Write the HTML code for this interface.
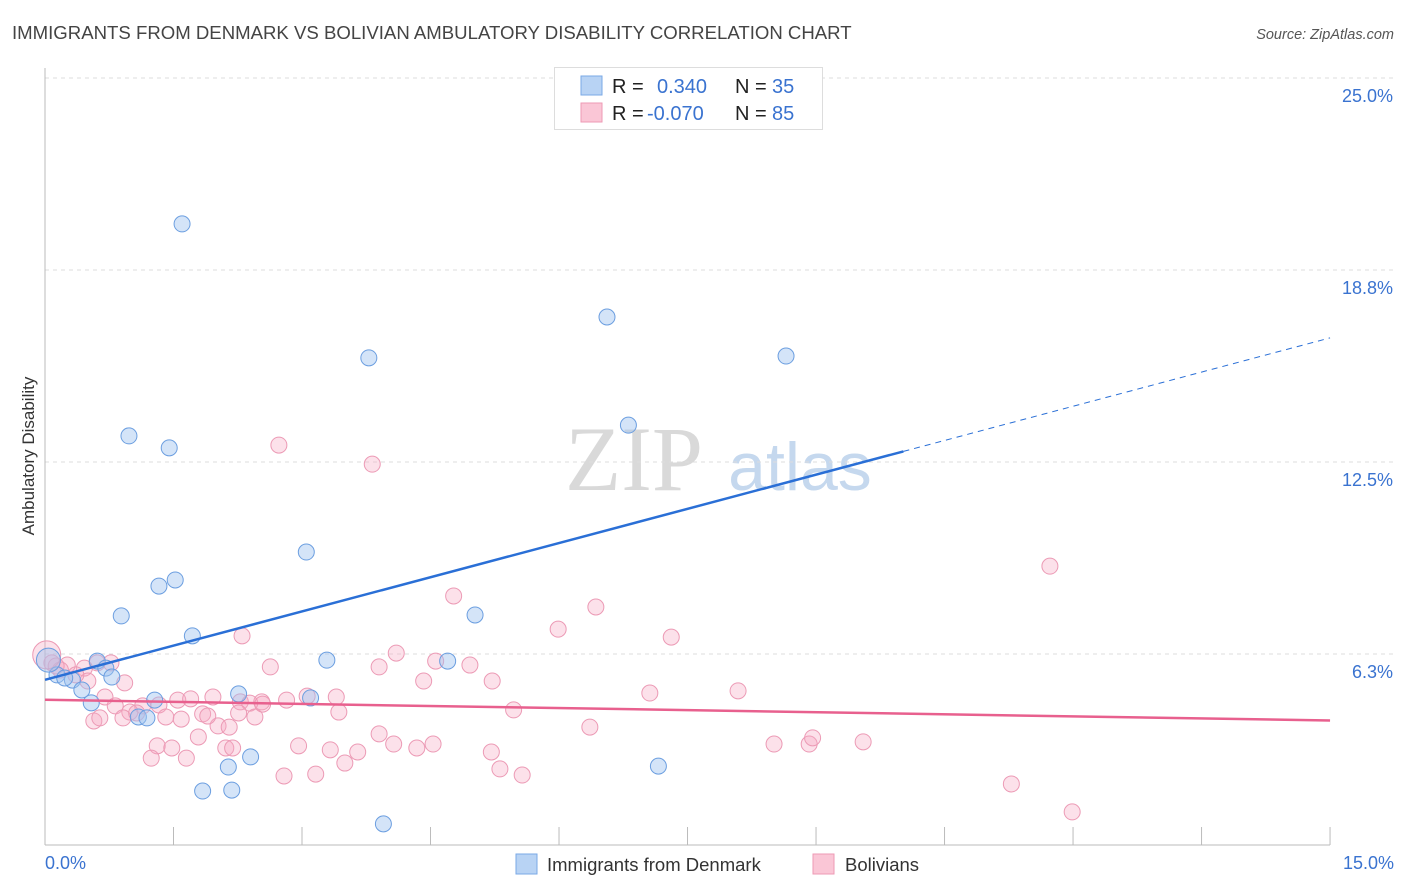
<!DOCTYPE html>
<html><head><meta charset="utf-8"><style>
body{margin:0;background:#fff;font-family:"Liberation Sans",sans-serif;}
#wrap{position:relative;width:1406px;height:892px;overflow:hidden;}
</style></head><body>
<div id="wrap">
<svg id="chart" width="1406" height="892" style="position:absolute;left:0;top:0">
<text x="12" y="39" font-size="18.6" fill="#444">IMMIGRANTS FROM DENMARK VS BOLIVIAN AMBULATORY DISABILITY CORRELATION CHART</text>
<text x="1394" y="39" font-size="14.5" fill="#555" font-style="italic" text-anchor="end">Source: ZipAtlas.com</text>
<text x="34" y="456" font-size="17" fill="#333" text-anchor="middle" transform="rotate(-90 34 456)">Ambulatory Disability</text>
<g>
<text x="634" y="490" font-size="92" font-family="Liberation Serif" fill="#d9d9d9" text-anchor="middle">ZIP</text>
<text x="800" y="490" font-size="68" fill="#c5d8ee" text-anchor="middle">atlas</text>
</g>
<g id="grid"></g><g id="axes"></g><g id="pts"></g><g id="trend"></g>
<g>
<rect x="554.5" y="67.5" width="268" height="62" fill="#fff" stroke="#ddd"/>
<rect x="581" y="76" width="21" height="19" fill="#b8d3f4" stroke="#7aa8e6"/>
<rect x="581" y="103" width="21" height="19" fill="#fac6d6" stroke="#ee9ab4"/>
<text y="93" font-size="20" fill="#222"><tspan x="612">R =</tspan><tspan x="657" fill="#3a73d0">0.340</tspan><tspan x="735">N =</tspan><tspan x="772" fill="#3a73d0">35</tspan></text>
<text y="120" font-size="20" fill="#222"><tspan x="612">R =</tspan><tspan x="647" fill="#3a73d0">-0.070</tspan><tspan x="735">N =</tspan><tspan x="772" fill="#3a73d0">85</tspan></text>
</g>
<g>
<rect x="516" y="854" width="21" height="20" fill="#b8d3f4" stroke="#7aa8e6"/>
<text x="547" y="871" font-size="18.5" fill="#333">Immigrants from Denmark</text>
<rect x="813" y="854" width="21" height="20" fill="#fac6d6" stroke="#ee9ab4"/>
<text x="845" y="871" font-size="18.5" fill="#333">Bolivians</text>
</g>
</svg>
</div>
<script>
const xTickVals=[0,1.5,3,4.5,6,7.5,9,10.5,12,13.5,15];
const yTickVals=[6.25,12.5,18.75,25];
const yTickLabels=["6.3%","12.5%","18.8%","25.0%"];
const blueX=[1.60,6.56,8.65,3.78,6.81,0.98,1.45,3.05,1.52,1.33,0.89,5.02,1.72,3.29,4.70,0.61,0.71,0.78,0.14,0.32,0.43,0.54,1.28,2.26,3.10,1.09,1.19,2.40,2.14,7.16,1.84,2.18,3.95,0.04,0.23];
const blueY=[20.25,17.22,15.95,15.89,13.70,13.35,12.96,9.57,8.66,8.46,7.49,7.52,6.84,6.05,6.02,6.02,5.79,5.50,5.57,5.40,5.08,4.66,4.75,4.95,4.82,4.20,4.17,2.90,2.57,2.60,1.79,1.82,0.72,6.05,5.47];
const pinkX=[2.73,3.82,11.73,4.77,6.43,5.99,7.31,2.30,4.10,4.56,4.96,3.90,2.63,0.77,0.61,0.26,0.46,0.50,4.42,5.22,0.93,0.70,1.96,1.55,1.70,2.28,2.53,2.39,2.82,3.06,3.40,7.06,8.09,0.82,1.14,0.99,1.33,1.84,1.41,1.59,2.26,2.45,0.91,0.57,0.64,2.02,2.15,3.43,5.47,1.79,3.90,6.36,1.31,1.48,2.11,2.19,2.96,3.33,3.65,4.07,4.34,4.53,5.21,8.51,8.92,8.96,9.55,1.24,1.65,3.50,5.31,2.79,3.16,5.57,11.28,11.99,0.08,0.18,0.36,1.07,1.90,2.54,0.13,0.02];
const pinkY=[13.05,12.43,9.11,8.14,7.78,7.06,6.80,6.84,6.28,6.02,5.89,5.83,5.83,5.96,5.96,5.89,5.79,5.37,5.37,5.37,5.31,4.85,4.85,4.75,4.79,4.69,4.69,4.65,4.75,4.88,4.85,4.98,5.05,4.56,4.56,4.36,4.59,4.30,4.20,4.13,4.33,4.20,4.17,4.07,4.17,3.91,3.87,4.36,4.43,3.55,3.65,3.87,3.26,3.19,3.19,3.19,3.26,3.13,3.06,3.32,3.19,3.32,3.06,3.32,3.32,3.52,3.39,2.86,2.86,2.70,2.51,2.28,2.34,2.31,2.02,1.11,5.96,5.73,5.57,4.33,4.23,4.62,5.86,6.22];
const blueTrend=[5.41,0.742];
const pinkTrend=[4.76,-0.045];
const NS="http://www.w3.org/2000/svg";
function X(v){return 45+v*85.67;}
function Y(v){return 846-v*30.72;}
function mk(t,a,p){const e=document.createElementNS(NS,t);for(const k in a)e.setAttribute(k,a[k]);p.appendChild(e);return e;}
const grid=document.getElementById('grid'),axes=document.getElementById('axes'),pts=document.getElementById('pts'),tr=document.getElementById('trend');
yTickVals.forEach((v,i)=>{
 const l=mk('line',{x1:45,x2:1394,y1:Y(v),y2:Y(v),stroke:'#ddd','stroke-dasharray':'4,4'},grid);
 
 
 const t=mk('text',{x:1393,y:Y(v)+24,'font-size':18,fill:'#3a73d0','text-anchor':'end'},axes);
 t.textContent=yTickLabels[i];
 
 
});
mk('line',{x1:45,x2:45,y1:68,y2:845,stroke:'#bbb'},axes);
mk('line',{x1:45,x2:1330,y1:845,y2:845,stroke:'#bbb'},axes);
xTickVals.forEach(v=>{
 const l=mk('line',{x1:X(v),x2:X(v),y1:827,y2:845,stroke:'#bbb'},axes);
 
 
});
const xl0=mk('text',{x:45,y:869,'font-size':18,fill:'#3a73d0'},axes);xl0.textContent='0.0%';


const xl1=mk('text',{x:1394,y:869,'font-size':18,fill:'#3a73d0','text-anchor':'end'},axes);xl1.textContent='15.0%';


pinkX.forEach((x,i)=>{
 const c=mk('circle',{cx:X(x),cy:Y(pinkY[i]),r:i==pinkX.length-1?14:8,fill:'rgba(245,170,195,0.35)',stroke:'#ec9ab5','stroke-width':1},pts);
 
 
});
blueX.forEach((x,i)=>{
 const c=mk('circle',{cx:X(x),cy:Y(blueY[i]),r:i==33?12:8,fill:'rgba(160,196,240,0.45)',stroke:'#6b9ee0','stroke-width':1},pts);
 
 
});
const bl=mk('line',{x1:X(0),y1:Y(blueTrend[0]),x2:X(10.02),y2:Y(blueTrend[0]+blueTrend[1]*10.02),stroke:'#2a6fd6','stroke-width':2.5},tr);


const bd=mk('line',{x1:X(10.02),y1:Y(blueTrend[0]+blueTrend[1]*10.02),x2:X(15),y2:Y(blueTrend[0]+blueTrend[1]*15),stroke:'#2a6fd6','stroke-width':1,'stroke-dasharray':'6,5'},tr);


const pl=mk('line',{x1:X(0),y1:Y(pinkTrend[0]),x2:X(15),y2:Y(pinkTrend[0]+pinkTrend[1]*15),stroke:'#e8608e','stroke-width':2.5},tr);


</script>
</body></html>
